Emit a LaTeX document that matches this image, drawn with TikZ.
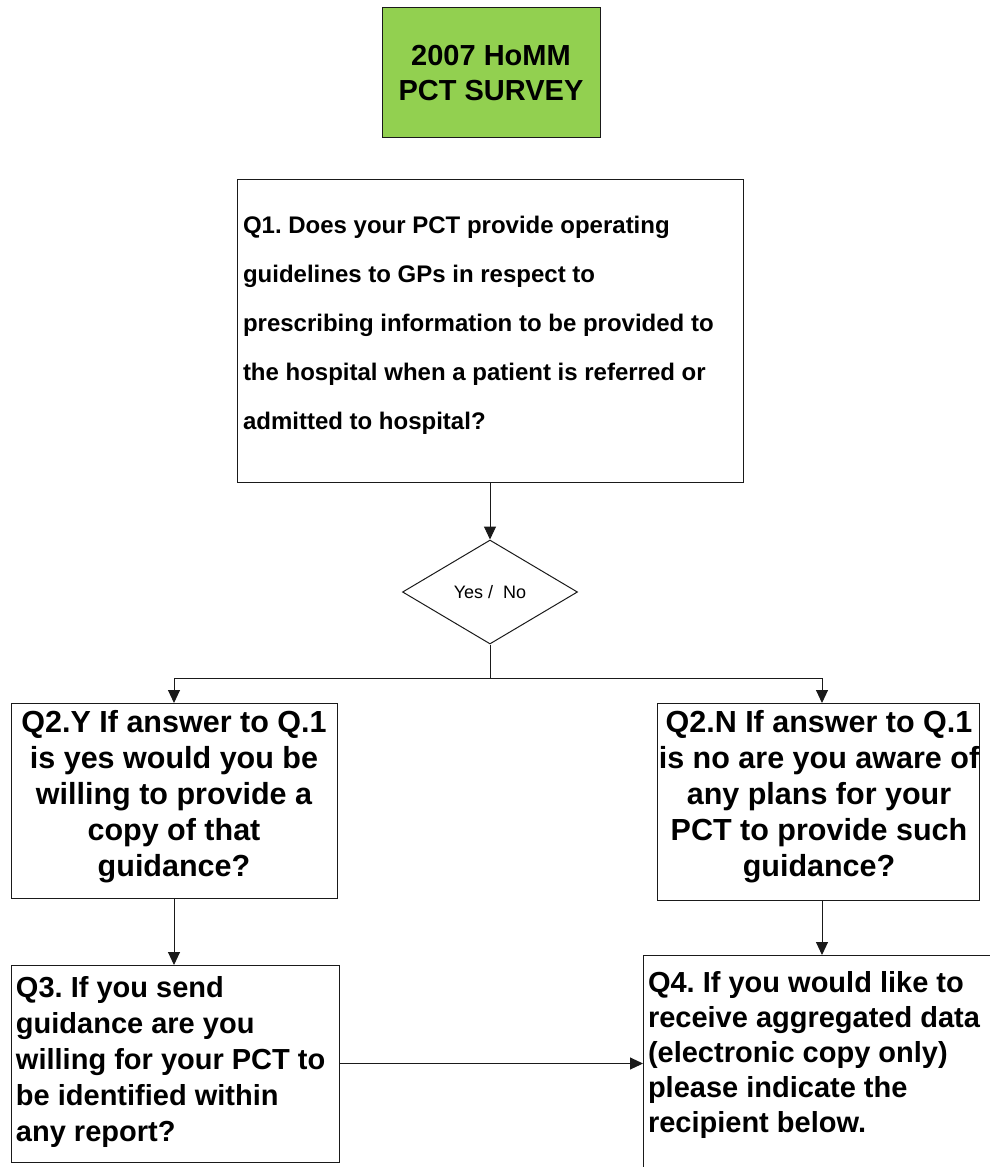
\documentclass[tikz,border=0pt]{standalone}
\usepackage{fontspec}
\setmainfont{Liberation Sans}
\usetikzlibrary{arrows.meta,shapes.geometric}
\definecolor{titlegreen}{HTML}{92D050}
\definecolor{edge}{HTML}{1A1A1A}
\frenchspacing
\begin{document}
\begin{tikzpicture}[x=1pt,y=-1pt,
  box/.style={draw=edge, line width=1pt, inner sep=0pt, outer sep=0pt},
  plain/.style={draw=edge, line width=1pt},
  link/.style={plain, -{Triangle[length=13pt,width=12pt]}},
  qtext/.style={inner sep=0pt, outer sep=0pt},
  bigq/.style={qtext, align=center, font=\fontsize{30.5}{36}\selectfont\bfseries},
  midq/.style={qtext, align=left, anchor=west, font=\fontsize{29}{36}\selectfont\bfseries}]
\useasboundingbox (0,0) rectangle (990,1167);
\clip (0,0) rectangle (990,1167);

% title
\node[box, fill=titlegreen, minimum width=218pt, minimum height=130pt] (title) at (491,72) {};
\node[qtext, align=center, font=\fontsize{29}{35}\selectfont\bfseries] (titletext) at (491,73.5)
  {2007 HoMM\\PCT SURVEY};

% question 1
\node[box, minimum width=506pt, minimum height=303pt] (q1) at (490,330.5) {};
\node[qtext, align=left, anchor=west, font=\fontsize{24}{49}\selectfont\bfseries] (q1text) at (243,325)
  {Q1. Does your PCT provide operating\\
   guidelines to GPs in respect to\\
   prescribing information to be provided to\\
   the hospital when a patient is referred or\\
   admitted to hospital?};

% yes / no decision
\node[diamond, draw=edge, line width=1pt, minimum width=175pt, minimum height=104pt,
      aspect=1.68, inner sep=0pt] (dec) at (490,592) {};
\node[qtext, font=\fontsize{18}{22}\selectfont] (dectext) at (490,592) {Yes /\ \ No};

% answer branches
\node[box, minimum width=326pt, minimum height=195pt] (q2y) at (174,800.5) {};
\node[bigq] (q2ytext) at (174,797)
  {Q2.Y If answer to Q.1\\is yes would you be\\willing to provide a\\copy of that\\guidance?};

\node[box, minimum width=322pt, minimum height=197pt] (q2n) at (818,801.5) {};
\node[bigq] (q2ntext) at (819,797)
  {Q2.N If answer to Q.1\\is no are you aware of\\any plans for your\\PCT to provide such\\guidance?};

% follow-up questions
\node[box, minimum width=328pt, minimum height=197pt] (q3) at (175,1063.5) {};
\node[midq] (q3text) at (16,1062)
  {Q3. If you send\\guidance are you\\willing for your PCT to\\be identified within\\any report?};

\node[box, minimum width=400pt, minimum height=260pt, anchor=north west] (q4) at (643,955) {};
\node[midq, font=\fontsize{29}{35}\selectfont\bfseries] (q4text) at (648,1055)
  {Q4. If you would like to\\receive aggregated data\\(electronic copy only)\\please indicate the\\recipient below.};

% connectors
\coordinate (split) at (490,678);
\draw[link] (q1.south) -- (dec.north);
\draw[plain] (dec.south) -- (split);
\draw[link] (split) -| (q2y.north);
\draw[link] (split) -| ([xshift=4pt]q2n.north);
\draw[link] (q2y.south) -- (q2y.south |- q3.north);
\draw[link] ([xshift=4pt]q2n.south) -- ([xshift=4pt]q2n.south |- q4.north);
\draw[link] (q3.east) -- (q3.east -| q4.west);
\end{tikzpicture}
\end{document}
